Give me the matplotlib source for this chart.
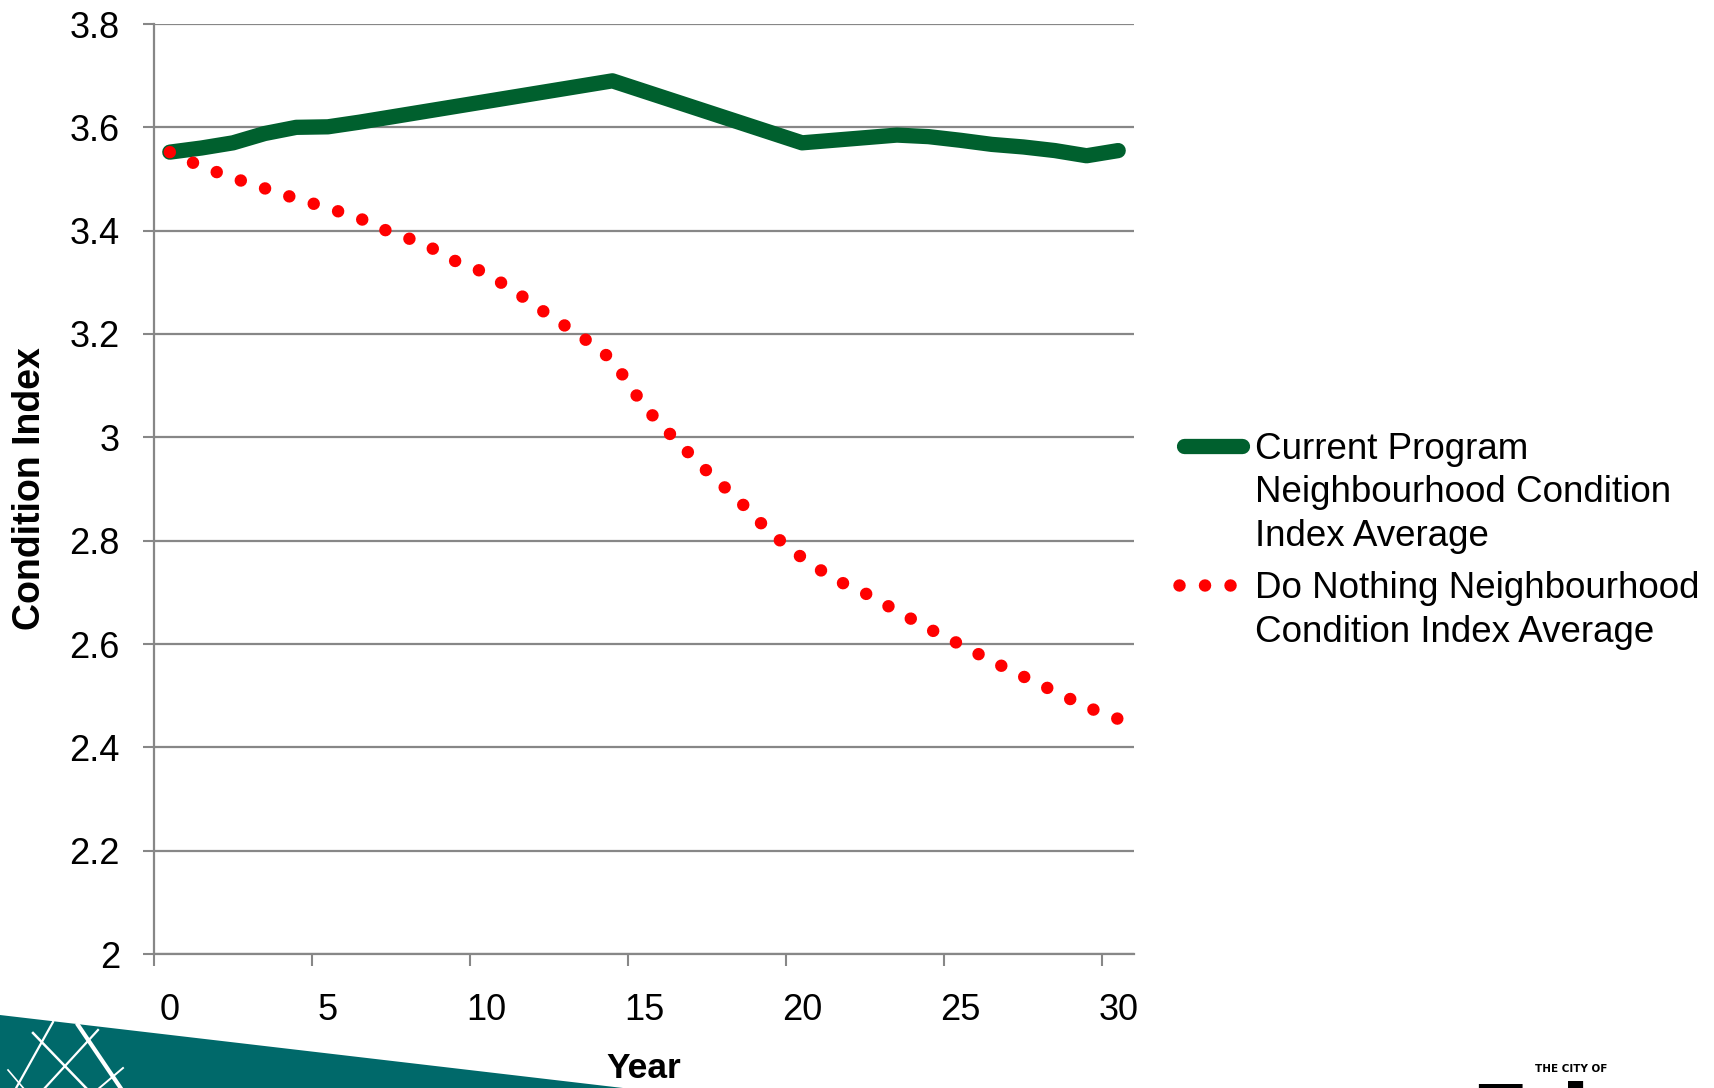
import matplotlib
matplotlib.use("Agg")
import matplotlib.pyplot as plt
from matplotlib.lines import Line2D
from matplotlib.patches import Polygon

# ---------------- data ----------------
years = list(range(31))
current_program = [3.552, 3.560, 3.570, 3.588, 3.600, 3.601, 3.610, 3.620, 3.630, 3.640,
                   3.650, 3.660, 3.670, 3.680, 3.690, 3.670, 3.650, 3.630, 3.610, 3.590,
                   3.570, 3.575, 3.580, 3.585, 3.582, 3.575, 3.567, 3.562, 3.555, 3.545,
                   3.555]
do_nothing = [3.552, 3.524, 3.502, 3.482, 3.462, 3.444, 3.424, 3.396, 3.376, 3.342,
              3.318, 3.279, 3.236, 3.196, 3.150, 3.060, 2.995, 2.934, 2.878, 2.815,
              2.767, 2.726, 2.698, 2.664, 2.630, 2.599, 2.567, 2.537, 2.508, 2.478,
              2.455]
y_ticks = [2.0, 2.2, 2.4, 2.6, 2.8, 3.0, 3.2, 3.4, 3.6, 3.8]
y_tick_labels = ["2", "2.2", "2.4", "2.6", "2.8", "3", "3.2", "3.4", "3.6", "3.8"]
x_label_years = [0, 5, 10, 15, 20, 25, 30]
x_tick_labels = ["0", "5", "10", "15", "20", "25", "30"]
legend_current = ["Current Program", "Neighbourhood Condition", "Index Average"]
legend_nothing = ["Do Nothing Neighbourhood", "Condition Index Average"]
x_title = "Year"
y_title = "Condition Index"

GREEN = "#00602E"
RED = "#FF0000"
GRID = "#878787"
TEAL = "#00696A"

W, H = 1715, 1088
plt.rcParams['font.family'] = ['Liberation Sans', 'DejaVu Sans']
fig = plt.figure(figsize=(W / 100, H / 100), dpi=100)


def fx(px):
    return px / W


def fy(py):
    return 1 - py / H


# decorative teal swoosh
fig.patches.append(Polygon([[fx(0), fy(1015)], [fx(640), fy(1090)], [fx(0), fy(1090)]],
                           closed=True, transform=fig.transFigure, facecolor=TEAL,
                           edgecolor='none', zorder=0))
for (x0, y0, x1, y1, lw) in [(53, 1022, 15, 1090, 1.6), (78, 1025, 122, 1090, 3.0),
                             (98, 1030, 43, 1090, 1.6), (33, 1033, 88, 1090, 1.8),
                             (123, 1068, 97, 1090, 1.4), (8, 1070, 25, 1090, 1.2)]:
    fig.lines.append(Line2D([fx(x0), fx(x1)], [fy(y0), fy(y1)], transform=fig.transFigure,
                            color='white', lw=lw, zorder=1))

ax = fig.add_axes([fx(154), fy(954), fx(1134) - fx(154), fy(24) - fy(954)])
ax.set_xlim(-0.5, 30.5)
ax.set_ylim(2.0, 3.8)
ax.set_axisbelow(True)

ax.plot(years, current_program, color=GREEN, lw=11, solid_capstyle='round',
        solid_joinstyle='round', zorder=3)
ax.plot(years, do_nothing, color=RED, lw=9, linestyle=(0, (0.001, 2.04)),
        dash_capstyle='round', zorder=4)

# y axis
ax.set_yticks(y_ticks)
ax.set_yticklabels(y_tick_labels)
ax.tick_params(axis='y', which='major', direction='out', length=8, width=1.5,
               color=GRID, pad=16.5, labelsize=26)
ax.yaxis.grid(True, color=GRID, lw=1.6)

# x axis: category boundaries as tick marks, labels at category centres
ax.set_xticks([y - 0.5 for y in x_label_years])
ax.set_xticklabels([])
ax.set_xticks(x_label_years, minor=True)
ax.set_xticklabels(x_tick_labels, minor=True)
ax.tick_params(axis='x', which='major', direction='out', length=8.6, width=1.5,
               color=GRID)
ax.tick_params(axis='x', which='minor', length=0, pad=28, labelsize=26)

for s in ['top', 'right']:
    ax.spines[s].set_visible(False)
for s in ['left', 'bottom']:
    ax.spines[s].set_color(GRID)
    ax.spines[s].set_linewidth(1.6)

ax.set_xlabel(x_title, fontsize=25.5, fontweight='bold')
ax.xaxis.set_label_coords(0.5, (954 - 1069) / 930)
ax.xaxis.label.set_va('center')
ax.set_ylabel(y_title, fontsize=27, fontweight='bold')
ax.yaxis.set_label_coords((30 - 154) / 980, 0.5)
ax.yaxis.label.set_va('center')

# legend (drawn manually to mimic the handle alignment with the first line)
fig.lines.append(Line2D([fx(1184), fx(1242)], [fy(446), fy(446)], transform=fig.transFigure,
                        color=GREEN, lw=11, solid_capstyle='round'))
fig.lines.append(Line2D([fx(1179), fx(1236)], [fy(585), fy(585)], transform=fig.transFigure,
                        color=RED, lw=9, linestyle=(0, (0.001, 2.04)), dash_capstyle='round'))
for i, t in enumerate(legend_current):
    fig.text(fx(1255), fy(459 + 43.5 * i), t, fontsize=26.5, ha='left', va='baseline')
for i, t in enumerate(legend_nothing):
    fig.text(fx(1255), fy(598 + 44 * i), t, fontsize=26.5, ha='left', va='baseline')

# logo fragment
fig.text(fx(1535), fy(1069), "THE CITY OF", fontsize=7.5, fontweight='bold', ha='left',
         va='center', family='DejaVu Sans')
fig.text(fx(1470), fy(1146), "Edmonton", fontsize=62, fontweight='heavy', ha='left',
         va='baseline', family='DejaVu Sans', zorder=0)

fig.savefig("out.png", dpi=100)
